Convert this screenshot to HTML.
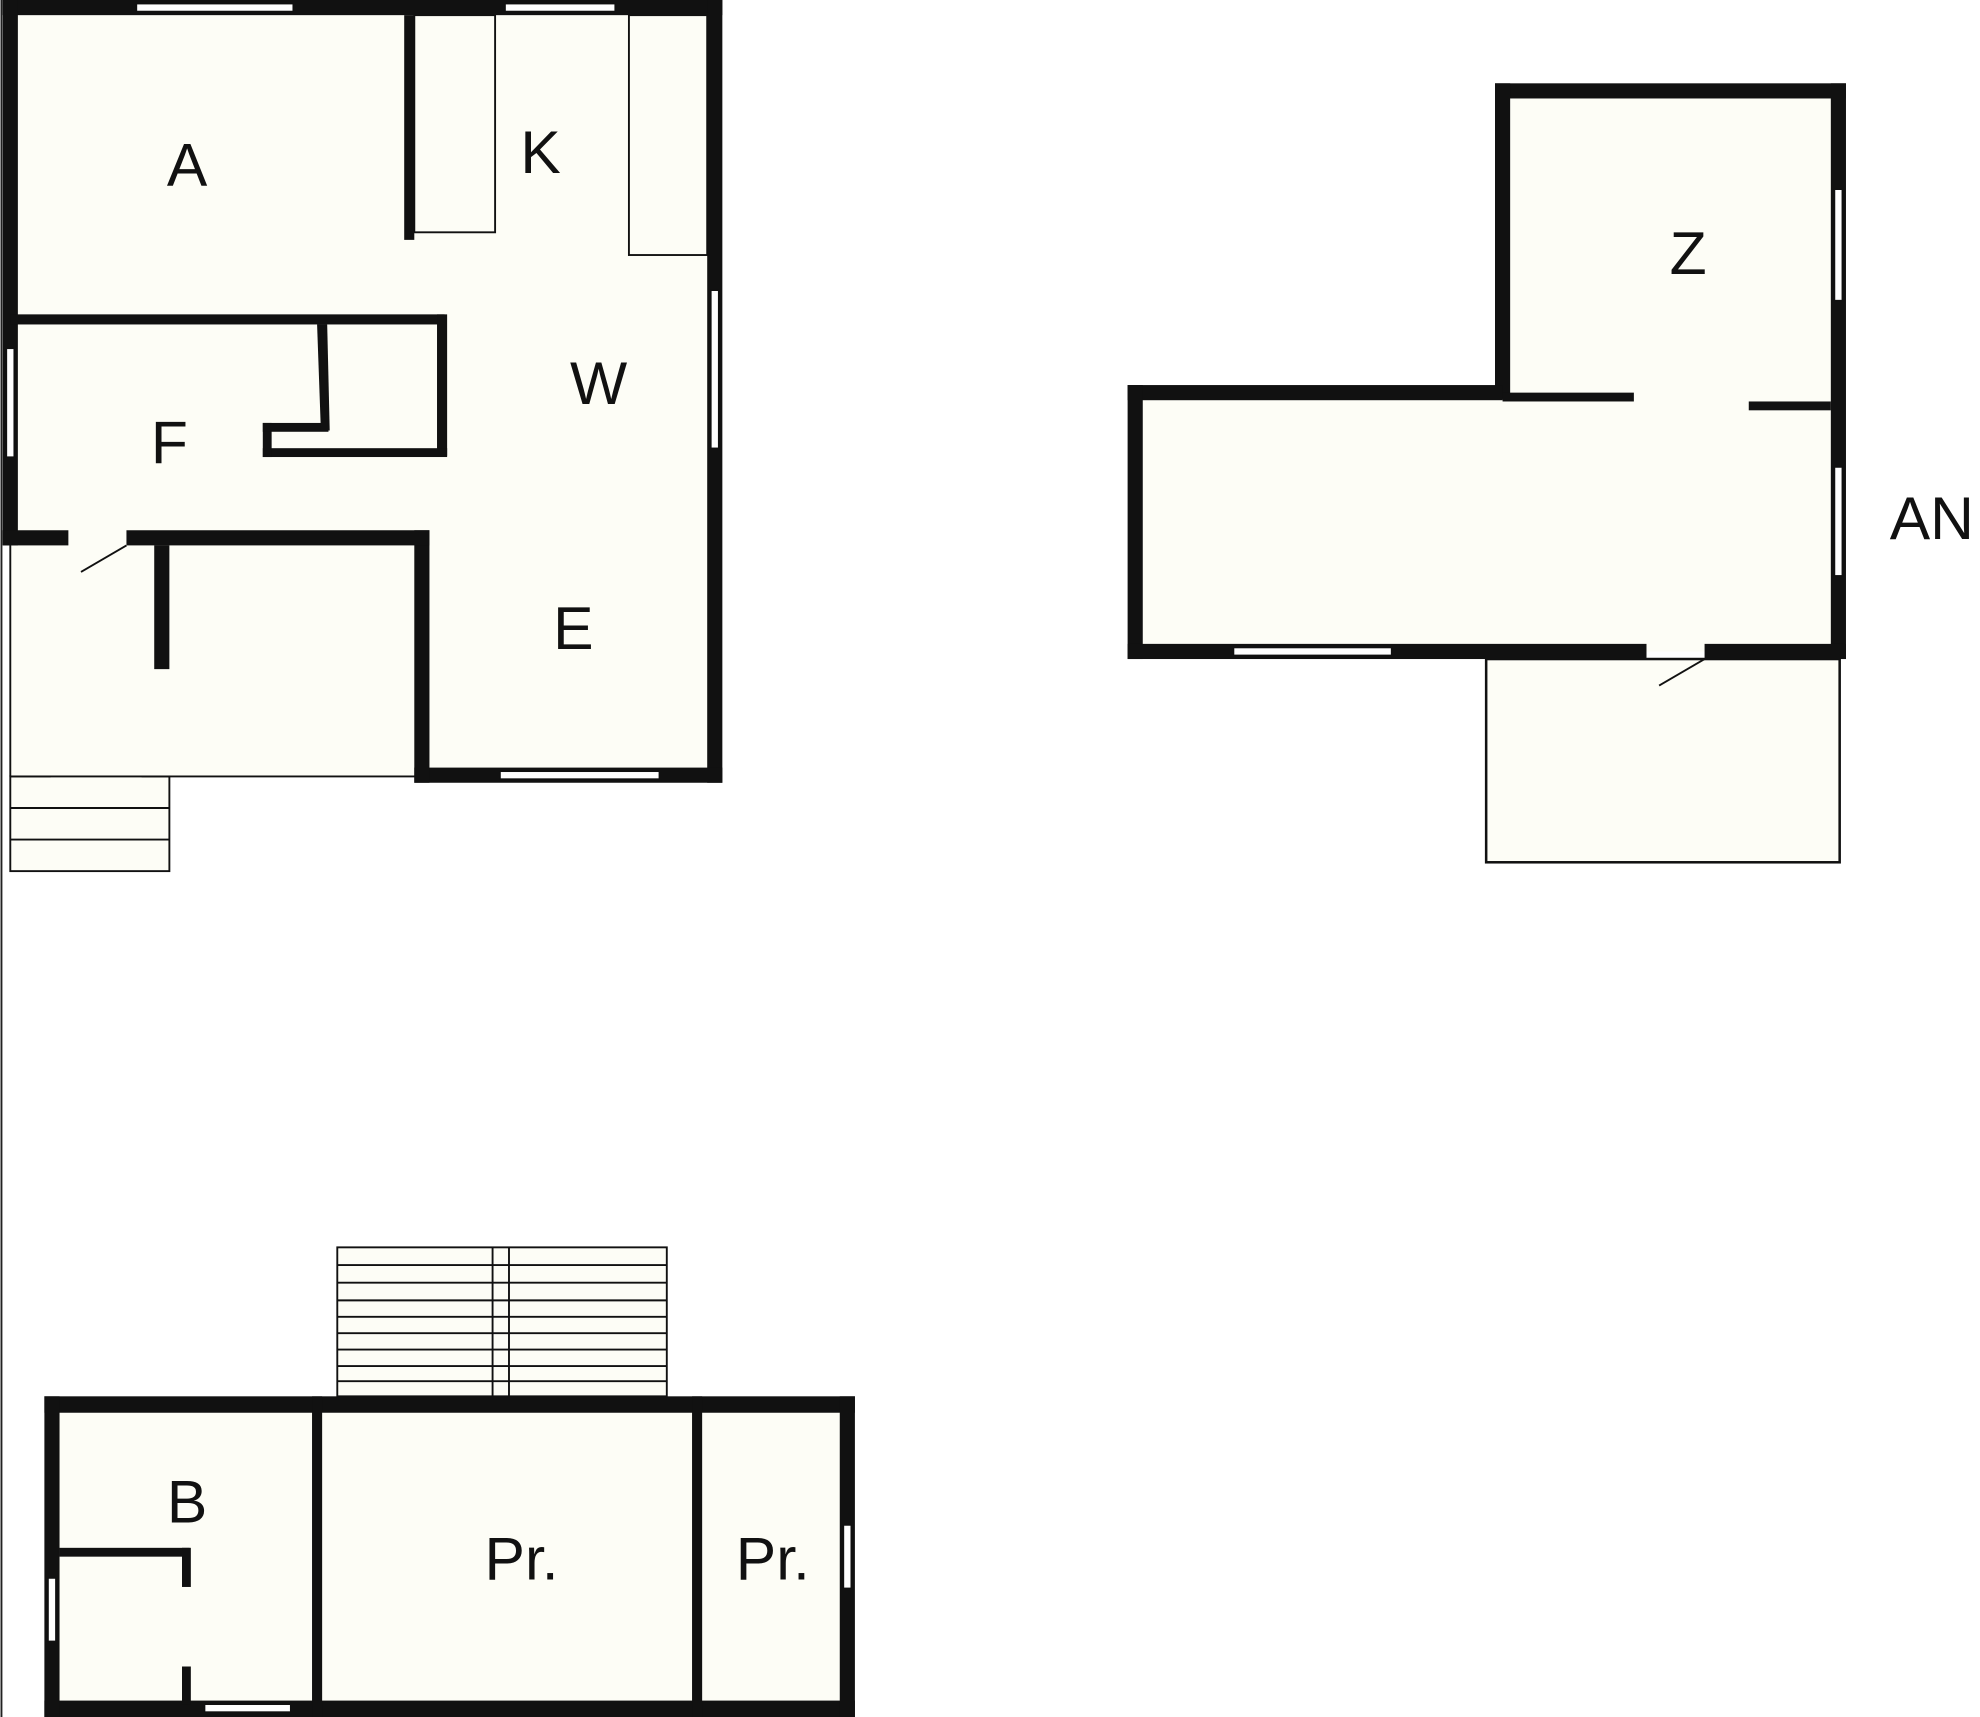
<!DOCTYPE html>
<html><head><meta charset="utf-8"><style>html,body{margin:0;padding:0;background:#fff}svg{display:block}</style></head><body>
<svg width="1980" height="1717" viewBox="0 0 1568 1360" xmlns="http://www.w3.org/2000/svg" font-family="Liberation Sans, sans-serif" font-size="48" fill="#111">
<line x1="1" y1="0" x2="1" y2="1360" stroke="#222" stroke-width="1.5"/>
<!-- Top-left building fills -->
<polygon points="8,6 566,6 566,614 334,614 334,615 8,615" fill="#fdfdf6"/>
<g fill="#fdfdf6" stroke="#111" stroke-width="1.5">
<rect x="328" y="12" width="64" height="172"/>
<rect x="498" y="12" width="62" height="190"/>
<rect x="8" y="615" width="126" height="75"/>
<line x1="8" y1="640" x2="134" y2="640"/><line x1="8" y1="665" x2="134" y2="665"/>
<line x1="8" y1="432" x2="8" y2="615"/>
<line x1="8" y1="615" x2="40" y2="615"/><line x1="112" y1="615" x2="330" y2="615"/>
<line x1="64" y1="453" x2="100" y2="432"/>
</g>
<g fill="#111">
<rect x="2" y="0" width="570" height="12"/>
<rect x="2" y="0" width="12" height="432"/>
<rect x="560" y="0" width="12" height="620"/>
<rect x="328" y="608" width="244" height="12"/>
<rect x="328" y="420" width="12" height="200"/>
<rect x="100" y="420" width="240" height="12"/>
<rect x="2" y="420" width="52" height="12"/>
<rect x="122" y="432" width="12" height="98"/>
<rect x="320" y="12" width="8" height="178"/>
<rect x="8" y="249" width="344" height="8"/>
<rect x="346" y="249" width="8" height="112"/>
<rect x="208" y="355" width="146" height="7"/>
<rect x="208" y="335" width="7" height="27"/>
<rect x="208" y="335" width="52" height="7"/>
<polygon points="251,257 259,257 261,341 254,341"/>
</g>
<g fill="#fff" stroke="#111" stroke-width="1">
<rect x="108" y="3" width="124" height="6"/>
<rect x="400" y="3" width="87" height="6"/>
<rect x="563" y="230" width="6" height="125"/>
<rect x="396" y="611" width="126" height="6"/>
<rect x="5" y="276" width="6" height="86"/>
</g>
<text x="148" y="147" text-anchor="middle">A</text>
<text x="428" y="137" text-anchor="middle">K</text>
<text x="474" y="320" text-anchor="middle">W</text>
<text x="134" y="367" text-anchor="middle">F</text>
<text x="454" y="514" text-anchor="middle">E</text>
<!-- Right building -->
<polygon points="1190,72 1456,72 1456,516 899,516 899,311 1190,311" fill="#fdfdf6"/>
<rect x="1177" y="522" width="280" height="161" fill="#fdfdf6" stroke="#111" stroke-width="2"/>
<line x1="1314" y1="543" x2="1350" y2="522" stroke="#111" stroke-width="1.5"/>
<g fill="#111">
<rect x="1184" y="66" width="278" height="12"/>
<rect x="1184" y="66" width="12" height="250"/>
<rect x="1450" y="66" width="12" height="456"/>
<rect x="893" y="305" width="297" height="12"/>
<rect x="1190" y="311" width="104" height="7"/>
<rect x="893" y="305" width="12" height="217"/>
<rect x="893" y="510" width="411" height="12"/>
<rect x="1350" y="510" width="112" height="12"/>
<rect x="1385" y="318" width="65" height="7"/>
</g>
<g fill="#fff" stroke="#111" stroke-width="1">
<rect x="1453" y="150" width="6" height="88"/>
<rect x="1453" y="370" width="6" height="86"/>
<rect x="977" y="513" width="125" height="6"/>
</g>
<text x="1530" y="427" text-anchor="middle">AN</text>
<text x="1337" y="217" text-anchor="middle">Z</text>
<!-- Bottom building -->
<g fill="#fdfdf6" stroke="#111" stroke-width="1.5">
<rect x="267" y="988" width="261" height="118"/>
<line x1="390" y1="988" x2="390" y2="1106"/><line x1="403" y1="988" x2="403" y2="1106"/>
<line x1="267" y1="1002" x2="528" y2="1002"/>
<line x1="267" y1="1016" x2="528" y2="1016"/>
<line x1="267" y1="1030" x2="528" y2="1030"/>
<line x1="267" y1="1043" x2="528" y2="1043"/>
<line x1="267" y1="1056" x2="528" y2="1056"/>
<line x1="267" y1="1069" x2="528" y2="1069"/>
<line x1="267" y1="1082" x2="528" y2="1082"/>
<line x1="267" y1="1094" x2="528" y2="1094"/>
</g>
<rect x="41" y="1112" width="630" height="242" fill="#fdfdf6"/>
<g fill="#111">
<rect x="35" y="1106" width="642" height="13"/>
<rect x="35" y="1347" width="642" height="13"/>
<rect x="35" y="1106" width="12" height="254"/>
<rect x="665" y="1106" width="12" height="254"/>
<rect x="247" y="1106" width="8" height="254"/>
<rect x="548" y="1106" width="8" height="254"/>
<rect x="47" y="1226" width="103" height="7"/>
<rect x="144" y="1226" width="7" height="31"/>
<rect x="144" y="1320" width="7" height="30"/>
</g>
<g fill="#fff" stroke="#111" stroke-width="1">
<rect x="38" y="1250" width="6" height="50"/>
<rect x="668" y="1208" width="6" height="50"/>
<rect x="162" y="1350" width="68" height="6"/>
</g>
<text x="148" y="1206" text-anchor="middle">B</text>
<text x="413" y="1251" text-anchor="middle">Pr.</text>
<text x="612" y="1251" text-anchor="middle">Pr.</text>
</svg>
</body></html>
